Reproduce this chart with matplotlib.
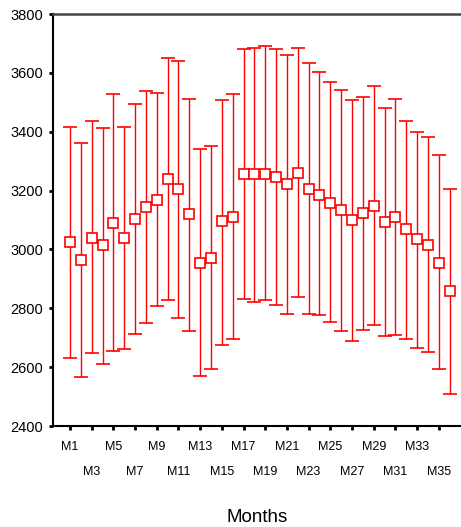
import matplotlib
matplotlib.use("Agg")
import matplotlib.pyplot as plt
import numpy as np

months = [f"M{i}" for i in range(1, 37)]
means = [3024, 2964, 3040, 3014, 3090, 3039, 3105, 3143, 3168, 3240, 3206, 3119,
         2955, 2970, 3095, 3110, 3256, 3256, 3256, 3246, 3221, 3261, 3206, 3186,
         3158, 3134, 3099, 3124, 3149, 3094, 3110, 3069, 3034, 3015, 2954, 2858]
upper = [3417, 3360, 3438, 3413, 3527, 3417, 3493, 3539, 3533, 3649, 3640, 3512,
         3340, 3351, 3509, 3527, 3680, 3683, 3690, 3680, 3660, 3684, 3635, 3602,
         3568, 3543, 3508, 3517, 3556, 3482, 3512, 3438, 3398, 3383, 3321, 3206]
lower = [2630, 2565, 2647, 2611, 2656, 2661, 2714, 2749, 2808, 2828, 2768, 2723,
         2571, 2595, 2676, 2696, 2833, 2822, 2827, 2812, 2782, 2838, 2782, 2777,
         2753, 2722, 2690, 2726, 2742, 2705, 2708, 2694, 2665, 2650, 2595, 2510]
yticks = [2400, 2600, 2800, 3000, 3200, 3400, 3600, 3800]
xlabel = "Months"

plt.rcParams['font.family'] = ['Liberation Sans', 'DejaVu Sans']

fig = plt.figure(figsize=(4.61, 5.27), dpi=100)
ax = fig.add_axes([53/461, 1-426/527, 1-53/461, (426-14)/527])

x = np.arange(len(months))
m = np.array(means)
yerr = [m - np.array(lower), np.array(upper) - m]
ax.errorbar(x, m, yerr=yerr, fmt='s', color='#ff0000', ecolor='#ff0000',
            elinewidth=1.0, capsize=5, capthick=1.0, markersize=7,
            markerfacecolor='white', markeredgecolor='#ff0000', markeredgewidth=1.2)

ax.set_ylim(2400, 3800)
ax.set_xlim(-1.57, 36.05)
ax.set_yticks(yticks)
ax.set_yticklabels([str(v) for v in yticks], fontsize=10.5)

major = x[::4]
minor = x[2::4]
ax.set_xticks(major)
ax.set_xticklabels([months[i] for i in major], fontsize=9)
ax.set_xticks(minor, minor=True)
ax.set_xticklabels([months[i] for i in minor], minor=True, fontsize=9)
ax.tick_params(axis='x', which='major', length=3, width=2, pad=8, direction='out')
ax.tick_params(axis='x', which='minor', length=3, width=2, pad=26, direction='out')
ax.tick_params(axis='y', length=3, width=2, pad=4, direction='out')

ax.spines['right'].set_visible(False)
ax.spines['top'].set_color('#444444')
ax.spines['top'].set_linewidth(1.8)
ax.spines['left'].set_linewidth(1.5)
ax.spines['bottom'].set_linewidth(1.5)

ax.set_xlabel(xlabel, fontsize=13.5, labelpad=22)

fig.savefig("out.png", dpi=100)
